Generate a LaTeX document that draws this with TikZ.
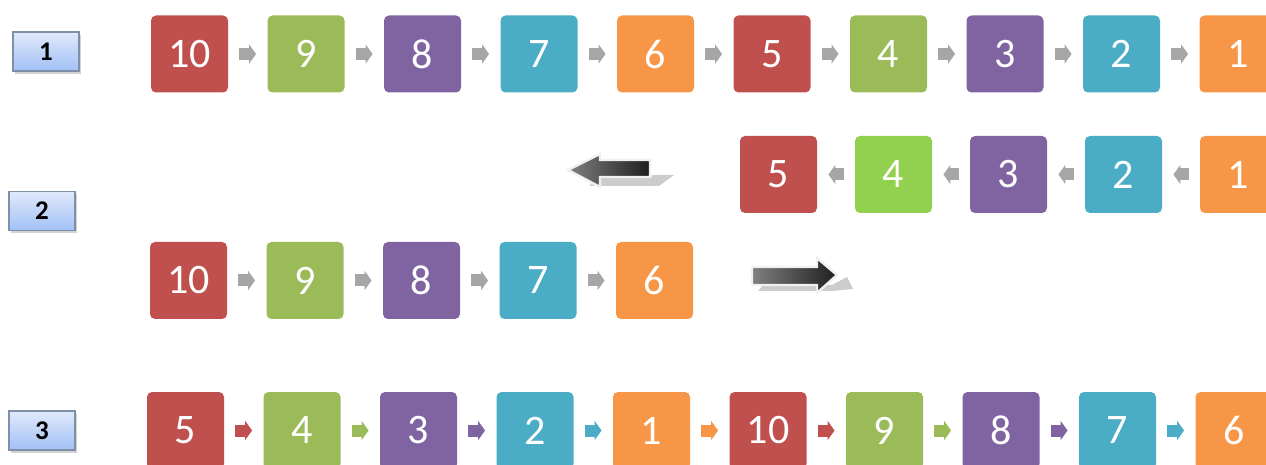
\documentclass[tikz,border=0pt]{standalone}
\usepackage{fontspec}
\setmainfont{Carlito}
\usepackage{xcolor}
\usepackage{tikz}
\usetikzlibrary{arrows.meta,positioning,shadows}

\definecolor{cred}{HTML}{C0504D}
\definecolor{cgreen}{HTML}{9BBB59}
\definecolor{clime}{HTML}{92D050}
\definecolor{cviolet}{HTML}{8064A2}
\definecolor{cblue}{HTML}{4BACC6}
\definecolor{corange}{HTML}{F79646}
\definecolor{linkgray}{HTML}{A6A6A6}
\definecolor{tagtop}{HTML}{E0E9FB}
\definecolor{tagbot}{HTML}{A2C1F6}
\definecolor{tagline}{HTML}{7F8FA6}

\begin{document}
\begin{tikzpicture}[
  x=0.5pt,y=-0.5pt,
  node distance=58.25pt,
  on grid,
  >={Triangle[length=3.5pt,width=9.5pt]},
  box/.style={rectangle,rounded corners=2.5pt,fill=#1,minimum size=38.5pt,inner sep=0pt,
    text=white,font=\fontsize{21pt}{21pt}\selectfont},
  tag/.style={rectangle,draw=tagline,line width=0.6pt,top color=tagtop,bottom color=tagbot,
    minimum width=33pt,minimum height=19.5pt,inner sep=0pt,font=\bfseries\fontsize{13.5pt}{13.5pt}\selectfont,
    drop shadow={opacity=0.35,shadow xshift=1pt,shadow yshift=-1.5pt}},
  link/.style={<-,line width=6pt,draw=#1,shorten <=5.5pt,shorten >=5.5pt},
  link/.default=linkgray,
  bigarrow/.style={left color=black!50,right color=black!88,draw=black!6,line width=1.2pt},
  bigshadow/.style={fill=black!20}]
  \useasboundingbox (0,0) rectangle (1266,465);
  % step labels
  \node [tag] (t1) at (46,51.5) {1};
  \node [tag] (t2) at (42,211) {2};
  \node [tag] (t3) at (42,430.5) {3};
  % row 1: the list as it is
  \node [box=cred]    (o10) at (189.5,54) {10};
  \node [box=cgreen]  (o9) [right=of o10] {9} edge [link] (o10);
  \node [box=cviolet] (o8) [right=of o9] {8} edge [link] (o9);
  \node [box=cblue]   (o7) [right=of o8] {7} edge [link] (o8);
  \node [box=corange] (o6) [right=of o7] {6} edge [link] (o7);
  \node [box=cred]    (o5) [right=of o6] {5} edge [link] (o6);
  \node [box=cgreen]  (o4) [right=of o5] {4} edge [link] (o5);
  \node [box=cviolet] (o3) [right=of o4] {3} edge [link] (o4);
  \node [box=cblue]   (o2) [right=of o3] {2} edge [link] (o3);
  \node [box=corange] (o1) [right=of o2] {1} edge [link] (o2);
  % row 2: the two halves, the back half turned round
  \begin{scope}[node distance=57.5pt]
  \node [box=corange] (u1) at (1238.5,174.5) {1};
  \node [box=cblue]   (u2) [left=of u1] {2} edge [link] (u1);
  \node [box=cviolet] (u3) [left=of u2] {3} edge [link] (u2);
  \node [box=clime]   (u4) [left=of u3] {4} edge [link] (u3);
  \node [box=cred]    (u5) [left=of u4] {5} edge [link] (u4);
  \end{scope}
  \node [box=cred]    (l10) at (188.5,280.5) {10};
  \node [box=cgreen]  (l9) [right=of l10] {9} edge [link] (l10);
  \node [box=cviolet] (l8) [right=of l9] {8} edge [link] (l9);
  \node [box=cblue]   (l7) [right=of l8] {7} edge [link] (l8);
  \node [box=corange] (l6) [right=of l7] {6} edge [link] (l7);
  % moving arrows
  \fill [bigshadow] (598,177) -- (652,177) -- (652,175) -- (674,175) -- (659,186) -- (589,186) -- cycle;
  \shade [bigarrow] (568,170) -- (600,154) -- (600,160) -- (650,160) -- (650,177) -- (600,177) -- (600,187) -- cycle;
  \fill [bigshadow] (758,291) -- (832,291) -- (853,289) -- (847,277) -- (832,285) -- (763,285) -- cycle;
  \shade [bigarrow] (752,267) -- (817,267) -- (817,258) -- (837,275) -- (817,293) -- (817,285) -- (752,285) -- cycle;
  % row 3: joined again
  \node [box=cred]    (r5) at (185.5,430.5) {5};
  \node [box=cgreen]  (r4) [right=of r5] {4} edge [link=cred] (r5);
  \node [box=cviolet] (r3) [right=of r4] {3} edge [link=cgreen] (r4);
  \node [box=cblue]   (r2) [right=of r3] {2} edge [link=cviolet] (r3);
  \node [box=corange] (r1) [right=of r2] {1} edge [link=cblue] (r2);
  \node [box=cred]    (r10) [right=of r1] {10} edge [link=corange] (r1);
  \node [box=cgreen]  (r9) [right=of r10] {9} edge [link=cred] (r10);
  \node [box=cviolet] (r8) [right=of r9] {8} edge [link=cgreen] (r9);
  \node [box=cblue]   (r7) [right=of r8] {7} edge [link=cviolet] (r8);
  \node [box=corange] (r6) [right=of r7] {6} edge [link=cblue] (r7);
\end{tikzpicture}
\end{document}
